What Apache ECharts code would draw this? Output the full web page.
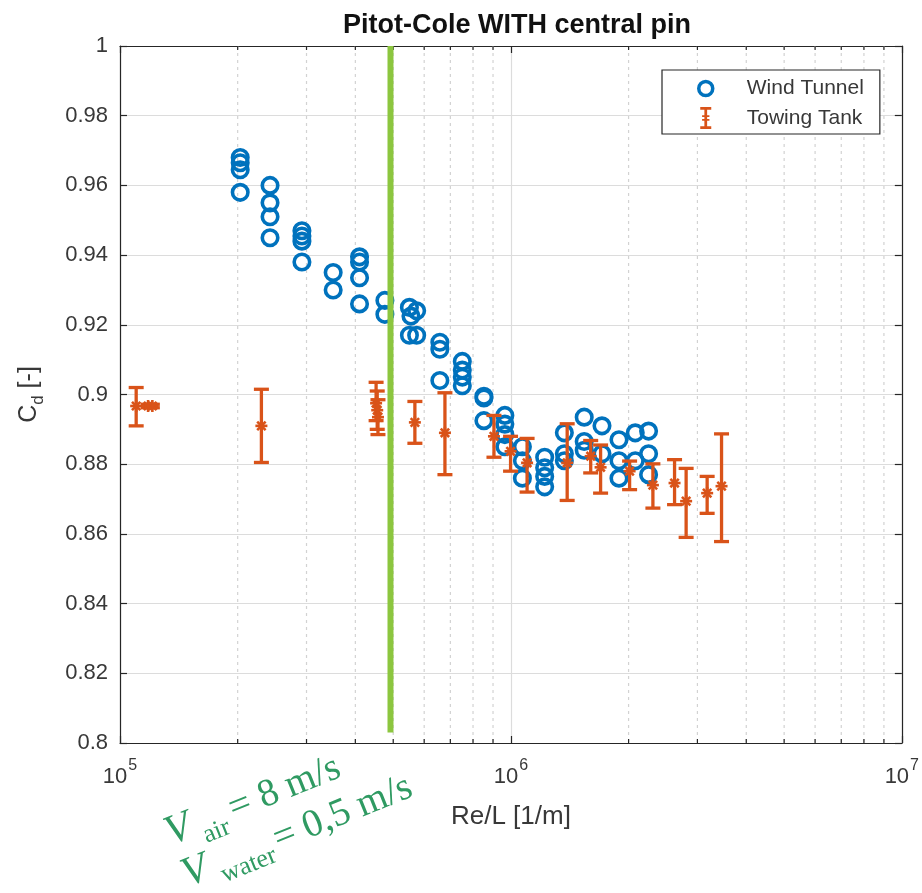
<!DOCTYPE html>
<html>
<head>
<meta charset="utf-8">
<script src="https://cdn.jsdelivr.net/npm/echarts@6/dist/echarts.min.js"></script>
<style>
  html, body { margin: 0; padding: 0; background: #fff; }
  #chart { width: 922px; height: 893px; }
</style>
</head>
<body>
<div id="chart"></div>
<script>
// Wind tunnel measurements (Re/L in 1/m, drag coefficient)
const wtRe = [
  2.03e5, 2.03e5, 2.03e5, 2.03e5,
  2.42e5, 2.42e5, 2.42e5, 2.42e5,
  2.92e5, 2.92e5, 2.92e5, 2.92e5,
  3.51e5, 3.51e5,
  4.10e5, 4.10e5, 4.10e5, 4.10e5,
  4.76e5, 4.76e5,
  5.50e5, 5.50e5, 5.55e5, 5.74e5, 5.74e5,
  6.58e5, 6.58e5, 6.58e5,
  7.51e5, 7.51e5, 7.51e5, 7.51e5,
  8.53e5, 8.53e5, 8.53e5,
  9.65e5, 9.65e5, 9.65e5, 9.65e5,
  1.07e6, 1.07e6, 1.07e6,
  1.22e6, 1.22e6, 1.22e6, 1.22e6,
  1.37e6, 1.37e6, 1.37e6,
  1.54e6, 1.54e6, 1.54e6,
  1.71e6, 1.71e6,
  1.89e6, 1.89e6, 1.89e6,
  2.08e6, 2.08e6,
  2.25e6, 2.25e6, 2.25e6
];
const wtCd = [
  0.968, 0.9665, 0.9645, 0.958,
  0.960, 0.955, 0.951, 0.945,
  0.947, 0.9455, 0.944, 0.938,
  0.935, 0.930,
  0.9395, 0.938, 0.9335, 0.926,
  0.927, 0.923,
  0.925, 0.917, 0.9225, 0.924, 0.917,
  0.915, 0.913, 0.904,
  0.9095, 0.907, 0.905, 0.9025,
  0.8995, 0.899, 0.8925,
  0.894, 0.8915, 0.8885, 0.885,
  0.885, 0.881, 0.876,
  0.882, 0.879, 0.8765, 0.8735,
  0.889, 0.883, 0.881,
  0.8935, 0.8865, 0.884,
  0.891, 0.883,
  0.887, 0.881, 0.876,
  0.889, 0.881,
  0.8895, 0.883, 0.877
];

// Towing tank measurements: mean drag coefficient with lower / upper bounds
const ttRe   = [1.10e5, 1.18e5, 1.21e5, 2.30e5, 4.52e5, 4.55e5, 4.57e5, 5.68e5, 6.78e5, 9.05e5, 9.98e5, 1.10e6, 1.393e6, 1.60e6, 1.696e6, 2.012e6, 2.308e6, 2.622e6, 2.807e6, 3.177e6, 3.458e6];
const ttCd   = [0.8967, 0.8967, 0.8967, 0.891, 0.8975, 0.8955, 0.8935, 0.892, 0.889, 0.888, 0.8837, 0.8804, 0.8804, 0.8823, 0.8791, 0.878, 0.874, 0.8746, 0.8694, 0.8717, 0.8737];
const ttLow  = [0.891, 0.8962, 0.8962, 0.8805, 0.8925, 0.890, 0.8885, 0.886, 0.877, 0.882, 0.878, 0.872, 0.8696, 0.8775, 0.8717, 0.8727, 0.8674, 0.8684, 0.859, 0.8659, 0.8578];
const ttHigh = [0.902, 0.8972, 0.8972, 0.9015, 0.9035, 0.901, 0.8985, 0.898, 0.9005, 0.894, 0.888, 0.8874, 0.8916, 0.8868, 0.8855, 0.8809, 0.8801, 0.8813, 0.8788, 0.8765, 0.8887];

// Speed marker: Re/L where V_air = 8 m/s, drawn from the top of the plot down
const markerRe = 4.92e5;
const markerCd = [1.0, 0.803];

// Axis ticks
const yTicks = { min: 0.8, max: 1.0, step: 0.02 };
const xDecades = [1e5, 1e6, 1e7];
const xMinor = [2e5, 3e5, 4e5, 5e5, 6e5, 7e5, 8e5, 9e5, 2e6, 3e6, 4e6, 5e6, 6e6, 7e6, 8e6, 9e6];

const FONT = 'Liberation Sans';
const AX = '#262626';
const LBL = '#383838';
const BLUE = '#0072BD';
const ORANGE = '#D95319';

const chart = echarts.init(document.getElementById('chart'), null, { renderer: 'canvas' });

const supLabel = v => '{b|10}{s|' + Math.round(Math.log10(v)) + '}';

function baseXAxis(pos, showLabel) {
  return {
    type: 'log', logBase: 10, min: xDecades[0], max: xDecades[xDecades.length - 1],
    position: pos,
    axisLine: { show: true, onZero: false, lineStyle: { color: AX, width: 1.2 } },
    axisTick: { show: true, inside: true, length: 7, lineStyle: { color: AX, width: 1.2 } },
    splitLine: { show: showLabel, lineStyle: { color: '#dcdcdc', width: 1.2 } },
    axisLabel: {
      show: showLabel, margin: 15, formatter: supLabel, color: LBL,
      rich: {
        b: { fontFamily: FONT, fontSize: 22, color: LBL, lineHeight: 30, verticalAlign: 'bottom' },
        s: { fontFamily: FONT, fontSize: 16, color: LBL, verticalAlign: 'top', padding: [0, 0, 0, 1] }
      }
    }
  };
}

function baseYAxis(pos, showLabel) {
  return {
    type: 'value', min: yTicks.min, max: yTicks.max, interval: yTicks.step,
    position: pos,
    axisLine: { show: true, onZero: false, lineStyle: { color: AX, width: 1.2 } },
    axisTick: { show: true, inside: true, length: 7, lineStyle: { color: AX, width: 1.2 } },
    splitLine: { show: showLabel, lineStyle: { color: '#dcdcdc', width: 1.2 } },
    axisLabel: {
      show: showLabel, margin: 12, color: LBL, fontFamily: FONT, fontSize: 22,
      formatter: v => String(+v.toFixed(2))
    }
  };
}

const xAxisBottom = baseXAxis('bottom', true);
xAxisBottom.name = 'Re/L [1/m]';
xAxisBottom.nameLocation = 'middle';
xAxisBottom.nameGap = 61;
xAxisBottom.nameTextStyle = { fontFamily: FONT, fontSize: 26, color: LBL };

const yAxisLeft = baseYAxis('left', true);
yAxisLeft.name = '{c|C}{d|d}{c| [-]}';
yAxisLeft.nameLocation = 'middle';
yAxisLeft.nameGap = 73;
yAxisLeft.nameTextStyle = {
  rich: {
    c: { fontFamily: FONT, fontSize: 25, color: LBL, lineHeight: 30, verticalAlign: 'top' },
    d: { fontFamily: FONT, fontSize: 17, color: LBL, verticalAlign: 'bottom' }
  }
};

// Minor log grid lines plus the short minor ticks on the top and bottom axis
function renderMinor(params, api) {
  const v = api.value(0);
  const top = api.coord([v, yTicks.max]);
  const bot = api.coord([v, yTicks.min]);
  const tick = { stroke: AX, lineWidth: 1.2 };
  return {
    type: 'group',
    children: [
      { type: 'line', shape: { x1: top[0], y1: top[1], x2: bot[0], y2: bot[1] },
        style: { stroke: '#d2d2d2', lineWidth: 1.2, lineDash: [3, 4] } },
      { type: 'line', shape: { x1: bot[0], y1: bot[1], x2: bot[0], y2: bot[1] - 4 }, style: tick },
      { type: 'line', shape: { x1: top[0], y1: top[1], x2: top[0], y2: top[1] + 4 }, style: tick }
    ]
  };
}

// Error bar with caps and an asterisk at the mean
function renderErrorBar(params, api) {
  const x = api.value(0);
  const c = api.coord([x, api.value(1)]);
  const lo = api.coord([x, api.value(2)]);
  const hi = api.coord([x, api.value(3)]);
  const cap = 7.5;
  const st = { stroke: ORANGE, lineWidth: 3.3 };
  const r = 6;
  const children = [];
  if (Math.abs(lo[1] - hi[1]) > 3) {
    children.push(
      { type: 'line', shape: { x1: lo[0], y1: lo[1], x2: hi[0], y2: hi[1] }, style: st },
      { type: 'line', shape: { x1: lo[0] - cap, y1: lo[1], x2: lo[0] + cap, y2: lo[1] }, style: st },
      { type: 'line', shape: { x1: hi[0] - cap, y1: hi[1], x2: hi[0] + cap, y2: hi[1] }, style: st }
    );
  }
  const ast = { stroke: ORANGE, lineWidth: 2.6 };
  children.push(
    { type: 'line', shape: { x1: c[0] - r, y1: c[1], x2: c[0] + r, y2: c[1] }, style: ast },
    { type: 'line', shape: { x1: c[0] - r * 0.7, y1: c[1] - r * 0.7, x2: c[0] + r * 0.7, y2: c[1] + r * 0.7 }, style: ast },
    { type: 'line', shape: { x1: c[0] - r * 0.7, y1: c[1] + r * 0.7, x2: c[0] + r * 0.7, y2: c[1] - r * 0.7 }, style: ast },
    { type: 'line', shape: { x1: c[0], y1: c[1] - r, x2: c[0], y2: c[1] + r }, style: ast }
  );
  return { type: 'group', children };
}

const GREEN_TXT = '#2f9a62';
const serif = 'Liberation Serif';
function gtext(x, y, text, size, italic) {
  return {
    type: 'text', x, y,
    style: {
      text, fill: GREEN_TXT, fontFamily: serif, fontSize: size,
      fontStyle: italic ? 'italic' : 'normal',
      align: 'left', textAlign: 'left', verticalAlign: 'middle', textVerticalAlign: 'middle'
    }
  };
}

const option = {
  animation: false,
  backgroundColor: '#ffffff',
  title: {
    text: 'Pitot-Cole WITH central pin',
    left: 512, top: 7, textAlign: 'center',
    textStyle: { fontFamily: FONT, fontWeight: 'bold', fontSize: 27, color: '#111' }
  },
  grid: { left: 120, top: 46, width: 782, height: 697 },
  legend: {
    orient: 'vertical',
    left: 662, top: 70,
    padding: [8, 16, 5, 35],
    itemWidth: 14, itemHeight: 22, itemGap: 8,
    backgroundColor: '#fff',
    borderColor: AX, borderWidth: 1.2, borderRadius: 0,
    selectedMode: false,
    formatter: name => '{g|}' + name,
    textStyle: {
      fontFamily: FONT, fontSize: 21, color: LBL,
      rich: { g: { width: 29 } }
    },
    data: [
      { name: 'Wind Tunnel', icon: 'circle',
        itemStyle: { color: 'rgba(0,0,0,0)', borderColor: BLUE, borderWidth: 3.5 } },
      { name: 'Towing Tank', icon: 'path://M0,0H12V3H7.5V9H10V11H7.5V13H10V15H7.5V21H12V24H0V21H4.5V15H2V13H4.5V11H2V9H4.5V3H0Z',
        itemStyle: { color: ORANGE, borderWidth: 0 } }
    ]
  },
  xAxis: [xAxisBottom, baseXAxis('top', false)],
  yAxis: [yAxisLeft, baseYAxis('right', false)],
  series: [
    {
      type: 'custom', name: 'minor-grid', silent: true, z: 1,
      renderItem: renderMinor,
      data: xMinor.map(v => [v, yTicks.min])
    },
    {
      type: 'scatter', name: 'Wind Tunnel', z: 3,
      symbol: 'circle', symbolSize: 15.5,
      itemStyle: { color: 'rgba(0,0,0,0)', borderColor: BLUE, borderWidth: 3.6, opacity: 1 },
      emphasis: { disabled: true },
      data: wtRe.map((re, i) => [re, wtCd[i]])
    },
    {
      type: 'custom', name: 'Towing Tank', z: 4,
      itemStyle: { color: ORANGE },
      renderItem: renderErrorBar,
      encode: { x: 0, y: 1 },
      data: ttRe.map((re, i) => [re, ttCd[i], ttLow[i], ttHigh[i]])
    },
    {
      type: 'line', name: 'speed-marker', z: 5, silent: true,
      symbol: 'none',
      lineStyle: { color: '#8cc63f', width: 6, cap: 'butt' },
      data: markerCd.map(cd => [markerRe, cd])
    }
  ],
  graphic: [
    {
      type: 'group', x: 172, y: 848, rotation: 22 * Math.PI / 180,
      children: [
        gtext(0, -14, 'V', 42, true),
        gtext(34, 1.5, 'air', 26, false),
        gtext(68, -13, '= 8 m/s', 39, false),
        gtext(0, 31, 'V', 42, true),
        gtext(36, 45, 'water', 26, false),
        gtext(98, 32, '= 0,5 m/s', 39, false)
      ]
    }
  ]
};

chart.setOption(option);
</script>
</body>
</html>
